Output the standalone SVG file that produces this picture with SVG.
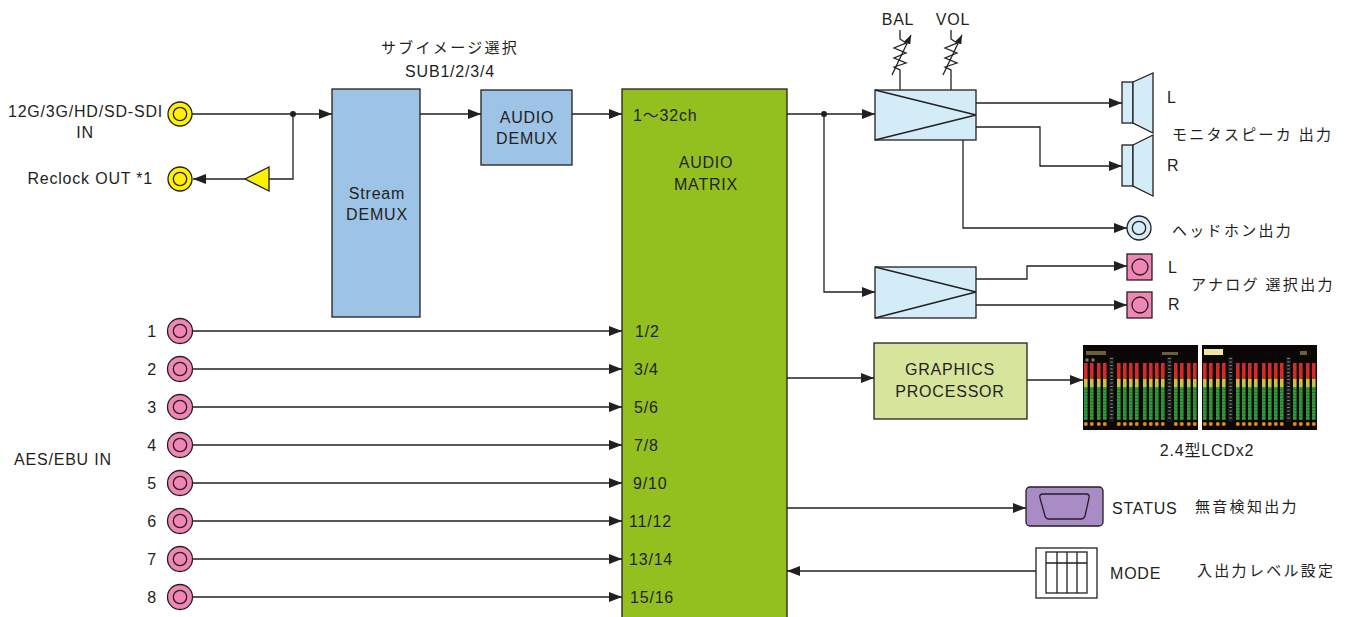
<svg xmlns="http://www.w3.org/2000/svg" width="1354" height="617" viewBox="0 0 1354 617">
<style>
.ln{stroke:#231f20;stroke-width:1.3;fill:none}
.bx{stroke:#231f20;stroke-width:1.3}
.t{font-family:"Liberation Sans",Arial,"Noto Sans CJK JP",sans-serif;font-size:16px;fill:#231f20;letter-spacing:0.8px}
.j{font-family:"Noto Sans CJK JP","Noto Sans CJK SC",sans-serif;font-size:15px;fill:#231f20;letter-spacing:2.3px}
.m{text-anchor:middle}
.e{text-anchor:end}
.ah{marker-end:url(#arr)}
</style>
<defs>
<marker id="arr" viewBox="0 0 13 10" refX="13" refY="5" markerWidth="13" markerHeight="10" orient="auto" markerUnits="userSpaceOnUse"><path d="M0,0 L13,5 L0,10 z" fill="#231f20"/></marker>
<marker id="sarr" viewBox="0 0 9 7" refX="9" refY="3.5" markerWidth="9" markerHeight="7" orient="auto" markerUnits="userSpaceOnUse"><path d="M0,0 L9,3.5 L0,7 z" fill="#231f20"/></marker>
<pattern id="seg" width="4" height="3" patternUnits="userSpaceOnUse"><rect width="4" height="3" fill="#2f9a3c"/><rect y="2.4" width="4" height="0.6" fill="#1d6b28"/></pattern>
<g id="bar">
<rect x="0" y="18" width="3.6" height="16" fill="#d32a2a"/>
<rect x="0" y="34" width="3.6" height="8" fill="#c9c23a"/>
<rect x="0" y="42" width="3.6" height="33" fill="url(#seg)"/>
<circle cx="1.8" cy="79" r="2" fill="#e08a1e"/>
</g>
<g id="scale">
<rect x="0" y="12" width="5" height="65" fill="#1a1a1a"/>
<line x1="2.5" y1="13" x2="2.5" y2="76" stroke="#8a8a8a" stroke-width="2.5" stroke-dasharray="1 2.5"/>
</g>
<g id="meters">
<rect width="115" height="85" fill="#0b0707"/>
<use href="#bar" x="1"/><use href="#bar" x="7"/><use href="#bar" x="14"/><use href="#bar" x="20"/>
<use href="#scale" x="26"/>
<use href="#bar" x="34"/><use href="#bar" x="40"/><use href="#bar" x="46"/><use href="#bar" x="52"/>
<use href="#bar" x="60"/><use href="#bar" x="66"/><use href="#bar" x="72"/><use href="#bar" x="78"/>
<use href="#scale" x="84"/>
<use href="#bar" x="91"/><use href="#bar" x="97"/><use href="#bar" x="104"/><use href="#bar" x="110"/>
</g>
</defs>

<g id="connectors">
<path class="ln ah" d="M192,114 H332"/>
<circle cx="293" cy="114" r="3" fill="#231f20"/>
<path class="ln" d="M293,114 V179 H269"/>
<path class="ln ah" d="M245,179 H193"/>
<path class="ln ah" d="M420,114 H481"/>
<path class="ln ah" d="M572,114 H622"/>
<path class="ln ah" d="M193,331 H622"/>
<path class="ln ah" d="M193,369 H622"/>
<path class="ln ah" d="M193,407 H622"/>
<path class="ln ah" d="M193,445 H622"/>
<path class="ln ah" d="M193,483 H622"/>
<path class="ln ah" d="M193,521 H622"/>
<path class="ln ah" d="M193,559 H622"/>
<path class="ln ah" d="M193,597 H622"/>
<path class="ln ah" d="M787,114 H875"/>
<circle cx="824" cy="114" r="3" fill="#231f20"/>
<path class="ln ah" d="M824,114 V292 H875"/>
<path class="ln ah" d="M976,103 H1122"/>
<path class="ln ah" d="M976,127 H1040 V166 H1122"/>
<path class="ln ah" d="M963,140 V228 H1127"/>
<path class="ln ah" d="M976,279 H1027 V266 H1127"/>
<path class="ln ah" d="M976,305 H1127"/>
<path class="ln ah" d="M787,378 H874"/>
<path class="ln ah" d="M1027,380 H1083"/>
<path class="ln ah" d="M787,508 H1026"/>
<path class="ln ah" d="M1036,571 H787"/>
<path class="ln" d="M900,30 V39 L906,43 L894,48 L906,53 L894,58 L906,63 L894,67 L900,70 V90"/>
<path class="ln" d="M892,75 L911,35" marker-end="url(#sarr)"/>
<path class="ln" d="M951,30 V39 L957,43 L945,48 L957,53 L945,58 L957,63 L945,67 L951,70 V90"/>
<path class="ln" d="M943,75 L962,35" marker-end="url(#sarr)"/>
</g>

<g id="sdi-in">
<circle class="bx" cx="180" cy="114" r="12" fill="#fff200"/>
<circle class="bx" cx="180" cy="114" r="6.7" fill="#fff200"/>
<text class="t e" x="163" y="117">12G/3G/HD/SD-SDI</text>
<text class="t m" x="85" y="138">IN</text>
</g>
<g id="reclock-out">
<circle class="bx" cx="180" cy="179" r="12" fill="#fff200"/>
<circle class="bx" cx="180" cy="179" r="6.7" fill="#fff200"/>
<text class="t e" x="153" y="184">Reclock OUT *1</text>
</g>
<g id="buffer">
<polygon class="bx" points="269,167 269,191 245,179" fill="#fff200"/>
</g>

<g id="stream-demux">
<rect class="bx" x="332" y="89" width="88" height="228" fill="#9dc3e6"/>
<text class="t m" x="377" y="199">Stream</text>
<text class="t m" x="377" y="220">DEMUX</text>
</g>
<g id="sub-label">
<text class="j m" x="450" y="53">サブイメージ選択</text>
<text class="t m" x="450" y="77">SUB1/2/3/4</text>
</g>
<g id="audio-demux">
<rect class="bx" x="481" y="90" width="91" height="75" fill="#9dc3e6"/>
<text class="t m" x="527" y="123">AUDIO</text>
<text class="t m" x="527" y="144">DEMUX</text>
</g>

<g id="audio-matrix">
<rect class="bx" x="622" y="89" width="165" height="540" fill="#93c01f"/>
<text class="t" x="633" y="121">1〜32ch</text>
<text class="t m" x="706" y="168">AUDIO</text>
<text class="t m" x="706" y="190">MATRIX</text>
<text class="t" x="635" y="337">1/2</text>
<text class="t" x="634" y="375">3/4</text>
<text class="t" x="634" y="413">5/6</text>
<text class="t" x="634" y="451">7/8</text>
<text class="t" x="633" y="489">9/10</text>
<text class="t" x="629" y="527">11/12</text>
<text class="t" x="629" y="565">13/14</text>
<text class="t" x="630" y="603">15/16</text>
</g>

<g id="aes-in">
<text class="t" x="14" y="465">AES/EBU IN</text>
<g class="bx" fill="#ef86b5">
<circle cx="180" cy="331" r="12.5"/><circle cx="180" cy="331" r="6.7"/>
<circle cx="180" cy="369" r="12.5"/><circle cx="180" cy="369" r="6.7"/>
<circle cx="180" cy="407" r="12.5"/><circle cx="180" cy="407" r="6.7"/>
<circle cx="180" cy="445" r="12.5"/><circle cx="180" cy="445" r="6.7"/>
<circle cx="180" cy="483" r="12.5"/><circle cx="180" cy="483" r="6.7"/>
<circle cx="180" cy="521" r="12.5"/><circle cx="180" cy="521" r="6.7"/>
<circle cx="180" cy="559" r="12.5"/><circle cx="180" cy="559" r="6.7"/>
<circle cx="180" cy="597" r="12.5"/><circle cx="180" cy="597" r="6.7"/>
</g>
<text class="t m" x="152" y="337">1</text>
<text class="t m" x="152" y="375">2</text>
<text class="t m" x="152" y="413">3</text>
<text class="t m" x="152" y="451">4</text>
<text class="t m" x="152" y="489">5</text>
<text class="t m" x="152" y="527">6</text>
<text class="t m" x="152" y="565">7</text>
<text class="t m" x="152" y="603">8</text>
</g>

<g id="monitor-amp">
<rect class="bx" x="875" y="90" width="101" height="50" fill="#d4ebf8"/>
<path class="ln" d="M875,90 L976,115 L875,140"/>
<text class="t m" x="898" y="25">BAL</text>
<text class="t m" x="953" y="25">VOL</text>
</g>
<g id="speaker-l">
<rect class="bx" x="1122" y="82" width="11" height="41" fill="#d4ebf8"/>
<polygon class="bx" points="1133,82 1153,73 1153,133 1133,123" fill="#d4ebf8"/>
<text class="t" x="1167" y="103">L</text>
</g>
<g id="speaker-r">
<rect class="bx" x="1122" y="145" width="11" height="41" fill="#d4ebf8"/>
<polygon class="bx" points="1133,145 1153,135 1153,196 1133,186" fill="#d4ebf8"/>
<text class="t" x="1167" y="171">R</text>
</g>
<text class="j" x="1172" y="140">モニタスピーカ 出力</text>
<g id="headphone">
<circle class="bx" cx="1139" cy="228" r="12" fill="#d4ebf8"/>
<circle class="bx" cx="1139" cy="228" r="6.7" fill="#d4ebf8"/>
<text class="j" x="1172" y="236">ヘッドホン出力</text>
</g>

<g id="analog-amp">
<rect class="bx" x="875" y="267" width="101" height="51" fill="#d4ebf8"/>
<path class="ln" d="M875,267 L976,292 L875,318"/>
</g>
<g id="analog-l">
<rect class="bx" x="1127" y="254" width="25" height="26" fill="#ef86b5"/>
<circle class="bx" cx="1140" cy="267" r="8" fill="#ef86b5"/>
<text class="t" x="1168" y="273">L</text>
</g>
<g id="analog-r">
<rect class="bx" x="1127" y="292" width="25" height="26" fill="#ef86b5"/>
<circle class="bx" cx="1140" cy="305" r="8" fill="#ef86b5"/>
<text class="t" x="1168" y="310">R</text>
</g>
<text class="j" x="1191" y="290">アナログ 選択出力</text>

<g id="graphics">
<rect class="bx" x="874" y="343" width="153" height="76" fill="#d6e49c"/>
<text class="t m" x="950" y="375">GRAPHICS</text>
<text class="t m" x="950" y="397">PROCESSOR</text>
</g>

<g id="lcd">
<use href="#meters" x="1083" y="345"/>
<rect x="1086" y="351" width="20" height="4" fill="#6b5e3a"/>
<rect x="1162" y="352" width="16" height="3" fill="#6b5e3a"/>
<circle cx="1087" cy="360" r="1.8" fill="#777"/>
<circle cx="1093" cy="360" r="1.8" fill="#777"/>
<use href="#meters" x="1202" y="345"/>
<rect x="1204" y="349" width="19" height="6" fill="#efe7a0"/>
<rect x="1300" y="351" width="7" height="4" fill="#6b5e3a"/>
<text class="t m" x="1207" y="456" style="font-family:'Liberation Sans','Noto Sans CJK JP',sans-serif">2.4型LCDx2</text>
</g>

<g id="status">
<rect class="bx" x="1026" y="487" width="77" height="39" rx="4" fill="#a98cc5"/>
<path class="ln" d="M1043,494 H1086 Q1090,494 1089,498 L1085,516 Q1084,519 1081,519 H1049 Q1046,519 1045,516 L1040,498 Q1039,494 1043,494 Z"/>
<text class="t" x="1112" y="514">STATUS</text>
<text class="j" x="1195" y="512">無音検知出力</text>
</g>

<g id="mode">
<rect class="bx" x="1036" y="548" width="61" height="50" fill="#ffffff"/>
<rect class="ln" x="1046" y="552" width="41" height="41"/>
<path class="ln" d="M1046,563 H1087 M1057,552 V593 M1067,552 V593 M1077,552 V593"/>
<text class="t" x="1110" y="579">MODE</text>
<text class="j" x="1197" y="576">入出力レベル設定</text>
</g>
</svg>
